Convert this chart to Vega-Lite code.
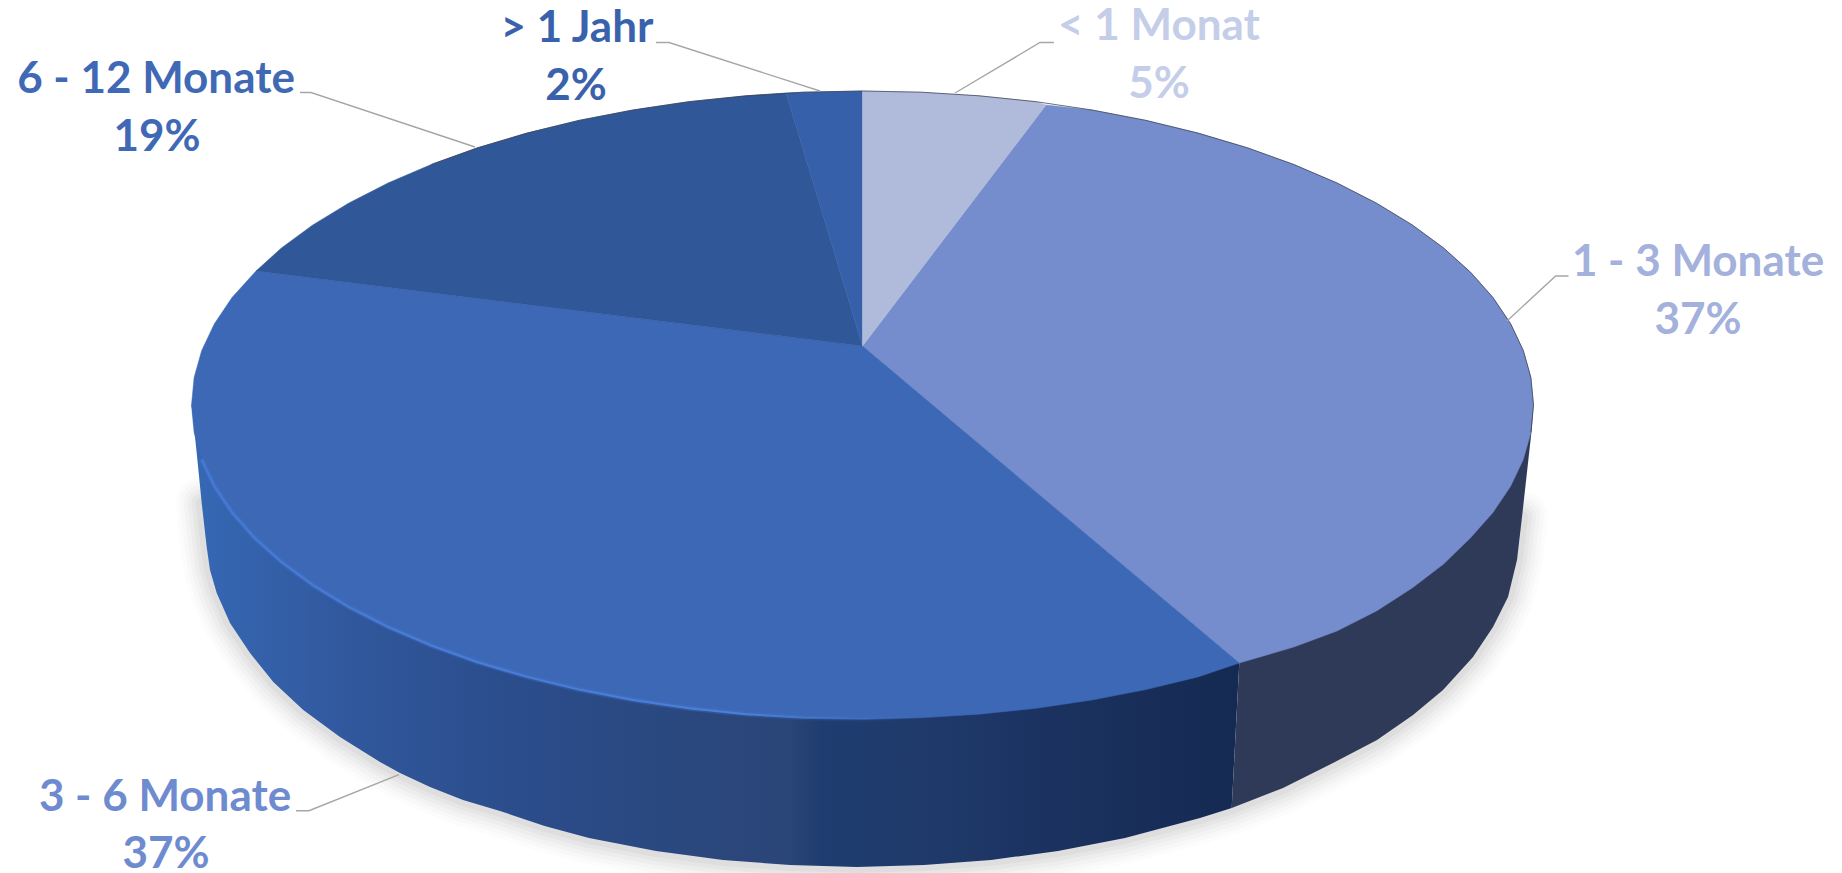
{"$schema":"https://vega.github.io/schema/vega-lite/v6.json","autosize":{"type":"none"},"width":1842,"height":873,"padding":0,"background":"#ffffff","config":{"view":{"stroke":null}},
"datasets":{
"edge":[
{"i":0,"x":201.7,"y":503},{"i":1,"x":206.7,"y":547},{"i":2,"x":210,"y":570},{"i":3,"x":216.7,"y":593},{"i":4,"x":230,"y":623},{"i":5,"x":250,"y":653},{"i":6,"x":273.3,"y":682},{"i":7,"x":303.3,"y":710},{"i":8,"x":340,"y":737},{"i":9,"x":380,"y":762},{"i":10,"x":400,"y":773},{"i":11,"x":430,"y":787},{"i":12,"x":463,"y":800},{"i":13,"x":500,"y":811},{"i":14,"x":544.6,"y":826},{"i":15,"x":589,"y":838},{"i":16,"x":656,"y":851},{"i":17,"x":723,"y":860},{"i":18,"x":790,"y":865},{"i":19,"x":857,"y":867},{"i":20,"x":924,"y":865},{"i":21,"x":991,"y":860},{"i":22,"x":1058,"y":851},{"i":23,"x":1125,"y":838},{"i":24,"x":1200,"y":818},{"i":25,"x":1231.7,"y":808},{"i":26,"x":1283,"y":788},{"i":27,"x":1333,"y":763},{"i":28,"x":1377,"y":740},{"i":29,"x":1413,"y":715},{"i":30,"x":1443,"y":690},{"i":31,"x":1473,"y":657},{"i":32,"x":1493,"y":627},{"i":33,"x":1508,"y":597},{"i":34,"x":1517,"y":560},{"i":35,"x":1522,"y":517}],
"walls":[
{"part":"left","i":0,"x":191.5,"y":405},{"part":"left","i":1,"x":193.3,"y":420},{"part":"left","i":2,"x":196.7,"y":453},{"part":"left","i":3,"x":201.7,"y":503},{"part":"left","i":4,"x":206.7,"y":547},{"part":"left","i":5,"x":210,"y":570},{"part":"left","i":6,"x":216.7,"y":593},{"part":"left","i":7,"x":230,"y":623},{"part":"left","i":8,"x":250,"y":653},{"part":"left","i":9,"x":273.3,"y":682},{"part":"left","i":10,"x":303.3,"y":710},{"part":"left","i":11,"x":340,"y":737},{"part":"left","i":12,"x":380,"y":762},{"part":"left","i":13,"x":400,"y":773},{"part":"left","i":14,"x":430,"y":787},{"part":"left","i":15,"x":463,"y":800},{"part":"left","i":16,"x":500,"y":811},{"part":"left","i":17,"x":544.6,"y":826},{"part":"left","i":18,"x":589,"y":838},{"part":"left","i":19,"x":656,"y":851},{"part":"left","i":20,"x":723,"y":860},{"part":"left","i":21,"x":790,"y":865},{"part":"left","i":22,"x":857,"y":867},{"part":"left","i":23,"x":924,"y":865},{"part":"left","i":24,"x":991,"y":860},{"part":"left","i":25,"x":1058,"y":851},{"part":"left","i":26,"x":1125,"y":838},{"part":"left","i":27,"x":1200,"y":818},{"part":"left","i":28,"x":1231.7,"y":808},{"part":"left","i":29,"x":1239.3,"y":663},{"part":"left","i":30,"x":862,"y":500},{"part":"left","i":31,"x":191.5,"y":405},
{"part":"right","i":0,"x":1239.3,"y":663},{"part":"right","i":1,"x":1231.7,"y":808},{"part":"right","i":2,"x":1283,"y":788},{"part":"right","i":3,"x":1333,"y":763},{"part":"right","i":4,"x":1377,"y":740},{"part":"right","i":5,"x":1413,"y":715},{"part":"right","i":6,"x":1443,"y":690},{"part":"right","i":7,"x":1473,"y":657},{"part":"right","i":8,"x":1493,"y":627},{"part":"right","i":9,"x":1508,"y":597},{"part":"right","i":10,"x":1517,"y":560},{"part":"right","i":11,"x":1522,"y":517},{"part":"right","i":12,"x":1528,"y":463},{"part":"right","i":13,"x":1532,"y":427},{"part":"right","i":14,"x":1533,"y":405},{"part":"right","i":15,"x":1300,"y":405},{"part":"right","i":16,"x":1239.3,"y":663}],
"sectors":[
{"part":"< 1 Monat","i":0,"x":862.5,"y":346},{"part":"< 1 Monat","i":1,"x":862.5,"y":91},{"part":"< 1 Monat","i":2,"x":921,"y":92.2},{"part":"< 1 Monat","i":3,"x":979,"y":95.8},{"part":"< 1 Monat","i":4,"x":1036.2,"y":101.7},{"part":"< 1 Monat","i":5,"x":1046,"y":105},{"part":"< 1 Monat","i":6,"x":862.5,"y":346},
{"part":"1 - 3 Monate","i":0,"x":862.5,"y":346},{"part":"1 - 3 Monate","i":1,"x":1046,"y":105},{"part":"1 - 3 Monate","i":2,"x":1092,"y":110},{"part":"1 - 3 Monate","i":3,"x":1146,"y":120.4},{"part":"1 - 3 Monate","i":4,"x":1198,"y":133.1},{"part":"1 - 3 Monate","i":5,"x":1247.4,"y":147.8},{"part":"1 - 3 Monate","i":6,"x":1293.8,"y":164.5},{"part":"1 - 3 Monate","i":7,"x":1337,"y":183},{"part":"1 - 3 Monate","i":8,"x":1376.5,"y":203.2},{"part":"1 - 3 Monate","i":9,"x":1412.2,"y":224.9},{"part":"1 - 3 Monate","i":10,"x":1443.6,"y":248},{"part":"1 - 3 Monate","i":11,"x":1470.6,"y":272.3},{"part":"1 - 3 Monate","i":12,"x":1493,"y":297.6},{"part":"1 - 3 Monate","i":13,"x":1510.6,"y":323.7},{"part":"1 - 3 Monate","i":14,"x":1523.3,"y":350.5},{"part":"1 - 3 Monate","i":15,"x":1530.9,"y":377.6},{"part":"1 - 3 Monate","i":16,"x":1533.5,"y":405},{"part":"1 - 3 Monate","i":17,"x":1530.9,"y":432.4},{"part":"1 - 3 Monate","i":18,"x":1523.3,"y":459.5},{"part":"1 - 3 Monate","i":19,"x":1510.6,"y":486.3},{"part":"1 - 3 Monate","i":20,"x":1493,"y":512.4},{"part":"1 - 3 Monate","i":21,"x":1470.6,"y":537.7},{"part":"1 - 3 Monate","i":22,"x":1443.6,"y":564},{"part":"1 - 3 Monate","i":23,"x":1412.2,"y":588},{"part":"1 - 3 Monate","i":24,"x":1376.5,"y":611},{"part":"1 - 3 Monate","i":25,"x":1337,"y":631},{"part":"1 - 3 Monate","i":26,"x":1293.8,"y":647},{"part":"1 - 3 Monate","i":27,"x":1239.3,"y":663},{"part":"1 - 3 Monate","i":28,"x":862.5,"y":346},
{"part":"3 - 6 Monate","i":0,"x":862.5,"y":346},{"part":"3 - 6 Monate","i":1,"x":1239.3,"y":663},{"part":"3 - 6 Monate","i":2,"x":1198,"y":676.9},{"part":"3 - 6 Monate","i":3,"x":1146,"y":689.6},{"part":"3 - 6 Monate","i":4,"x":1092,"y":700},{"part":"3 - 6 Monate","i":5,"x":1036.2,"y":708.3},{"part":"3 - 6 Monate","i":6,"x":979,"y":714.2},{"part":"3 - 6 Monate","i":7,"x":921,"y":717.8},{"part":"3 - 6 Monate","i":8,"x":862.5,"y":719},{"part":"3 - 6 Monate","i":9,"x":804,"y":717.8},{"part":"3 - 6 Monate","i":10,"x":746,"y":714.2},{"part":"3 - 6 Monate","i":11,"x":688.8,"y":708.3},{"part":"3 - 6 Monate","i":12,"x":633,"y":700},{"part":"3 - 6 Monate","i":13,"x":579,"y":689.6},{"part":"3 - 6 Monate","i":14,"x":527,"y":676.9},{"part":"3 - 6 Monate","i":15,"x":477.6,"y":662.2},{"part":"3 - 6 Monate","i":16,"x":431.2,"y":645.5},{"part":"3 - 6 Monate","i":17,"x":388,"y":627},{"part":"3 - 6 Monate","i":18,"x":348.5,"y":606.8},{"part":"3 - 6 Monate","i":19,"x":312.8,"y":585.1},{"part":"3 - 6 Monate","i":20,"x":281.4,"y":562},{"part":"3 - 6 Monate","i":21,"x":254.4,"y":537.7},{"part":"3 - 6 Monate","i":22,"x":232,"y":512.4},{"part":"3 - 6 Monate","i":23,"x":214.4,"y":486.3},{"part":"3 - 6 Monate","i":24,"x":201.7,"y":459.5},{"part":"3 - 6 Monate","i":25,"x":194.1,"y":432.4},{"part":"3 - 6 Monate","i":26,"x":191.5,"y":405},{"part":"3 - 6 Monate","i":27,"x":194.1,"y":377.6},{"part":"3 - 6 Monate","i":28,"x":201.7,"y":350.5},{"part":"3 - 6 Monate","i":29,"x":214.4,"y":323.7},{"part":"3 - 6 Monate","i":30,"x":232,"y":297.6},{"part":"3 - 6 Monate","i":31,"x":256,"y":271},{"part":"3 - 6 Monate","i":32,"x":862.5,"y":346},
{"part":"6 - 12 Monate","i":0,"x":862.5,"y":346},{"part":"6 - 12 Monate","i":1,"x":256,"y":271},{"part":"6 - 12 Monate","i":2,"x":281.4,"y":248},{"part":"6 - 12 Monate","i":3,"x":312.8,"y":224.9},{"part":"6 - 12 Monate","i":4,"x":348.5,"y":203.2},{"part":"6 - 12 Monate","i":5,"x":388,"y":183},{"part":"6 - 12 Monate","i":6,"x":431.2,"y":164.5},{"part":"6 - 12 Monate","i":7,"x":477.6,"y":147.8},{"part":"6 - 12 Monate","i":8,"x":527,"y":133.1},{"part":"6 - 12 Monate","i":9,"x":579,"y":120.4},{"part":"6 - 12 Monate","i":10,"x":633,"y":110},{"part":"6 - 12 Monate","i":11,"x":688.8,"y":101.7},{"part":"6 - 12 Monate","i":12,"x":746,"y":95.8},{"part":"6 - 12 Monate","i":13,"x":786,"y":93},{"part":"6 - 12 Monate","i":14,"x":862.5,"y":346},
{"part":"> 1 Jahr","i":0,"x":862.5,"y":346},{"part":"> 1 Jahr","i":1,"x":786,"y":93},{"part":"> 1 Jahr","i":2,"x":804,"y":92.2},{"part":"> 1 Jahr","i":3,"x":862.5,"y":91},{"part":"> 1 Jahr","i":4,"x":862.5,"y":346}],
"highlight":[
{"i":1,"x":201.7,"y":459.5},{"i":2,"x":214.4,"y":486.3},{"i":3,"x":232,"y":512.4},{"i":4,"x":254.4,"y":537.7},{"i":5,"x":281.4,"y":562},{"i":6,"x":312.8,"y":585.1},{"i":7,"x":348.5,"y":606.8},{"i":8,"x":388,"y":627},{"i":9,"x":431.2,"y":645.5},{"i":10,"x":477.6,"y":662.2},{"i":11,"x":527,"y":676.9},{"i":12,"x":579,"y":689.6},{"i":13,"x":633,"y":700},{"i":14,"x":688.8,"y":708.3},{"i":15,"x":746,"y":714.2},{"i":16,"x":804,"y":717.8},{"i":17,"x":862.5,"y":719},{"i":18,"x":921,"y":717.8}],
"rim":[
{"i":0,"x":431.2,"y":164.5},{"i":1,"x":477.6,"y":147.8},{"i":2,"x":527,"y":133.1},{"i":3,"x":579,"y":120.4},{"i":4,"x":633,"y":110},{"i":5,"x":688.8,"y":101.7},{"i":6,"x":746,"y":95.8},{"i":7,"x":804,"y":92.2},{"i":8,"x":862.5,"y":91},{"i":9,"x":921,"y":92.2},{"i":10,"x":979,"y":95.8},{"i":11,"x":1036.2,"y":101.7},{"i":12,"x":1092,"y":110},{"i":13,"x":1146,"y":120.4},{"i":14,"x":1198,"y":133.1},{"i":15,"x":1247.4,"y":147.8},{"i":16,"x":1293.8,"y":164.5},{"i":17,"x":1337,"y":183},{"i":18,"x":1376.5,"y":203.2},{"i":19,"x":1412.2,"y":224.9},{"i":20,"x":1443.6,"y":248},{"i":21,"x":1470.6,"y":272.3},{"i":22,"x":1493,"y":297.6},{"i":23,"x":1510.6,"y":323.7},{"i":24,"x":1523.3,"y":350.5},{"i":25,"x":1530.9,"y":377.6},{"i":26,"x":1533.5,"y":405},{"i":27,"x":1530.9,"y":432.4}],
"leaders":[
{"part":"> 1 Jahr","i":0,"x":656,"y":42.5},{"part":"> 1 Jahr","i":1,"x":669,"y":42.5},{"part":"> 1 Jahr","i":2,"x":820,"y":91},
{"part":"6 - 12 Monate","i":0,"x":300,"y":92.5},{"part":"6 - 12 Monate","i":1,"x":311,"y":92.5},{"part":"6 - 12 Monate","i":2,"x":475,"y":147},
{"part":"< 1 Monat","i":0,"x":1054,"y":42.5},{"part":"< 1 Monat","i":1,"x":1040,"y":42.5},{"part":"< 1 Monat","i":2,"x":955,"y":93},
{"part":"1 - 3 Monate","i":0,"x":1568.5,"y":276},{"part":"1 - 3 Monate","i":1,"x":1555.6,"y":276},{"part":"1 - 3 Monate","i":2,"x":1507,"y":321},
{"part":"3 - 6 Monate","i":0,"x":296,"y":810.7},{"part":"3 - 6 Monate","i":1,"x":309,"y":810.7},{"part":"3 - 6 Monate","i":2,"x":399,"y":774.7}],
"labels":[
{"part":"< 1 Monat","text":"< 1 Monat","x":1159,"y":40},{"part":"< 1 Monat","text":"5%","x":1159,"y":97.7},
{"part":"1 - 3 Monate","text":"1 - 3 Monate","x":1698,"y":276},{"part":"1 - 3 Monate","text":"37%","x":1698,"y":334},
{"part":"3 - 6 Monate","text":"3 - 6 Monate","x":165,"y":810.7},{"part":"3 - 6 Monate","text":"37%","x":166,"y":868},
{"part":"6 - 12 Monate","text":"6 - 12 Monate","x":156,"y":93},{"part":"6 - 12 Monate","text":"19%","x":157,"y":151},
{"part":"> 1 Jahr","text":"> 1 Jahr","x":577,"y":41.7},{"part":"> 1 Jahr","text":"2%","x":576,"y":100}]
},
"encoding":{
"x":{"field":"x","type":"quantitative","axis":null,"scale":{"domain":[0,1842],"nice":false,"zero":false}},
"y":{"field":"y","type":"quantitative","axis":null,"scale":{"domain":[873,0],"nice":false,"zero":false}}
},
"layer":[
{"data":{"name":"edge"},"mark":{"type":"line","stroke":"#000000","strokeOpacity":0.012,"strokeWidth":52,"strokeCap":"round","strokeJoin":"round"},"encoding":{"order":{"field":"i","type":"quantitative"}}},
{"data":{"name":"edge"},"mark":{"type":"line","stroke":"#000000","strokeOpacity":0.016,"strokeWidth":44,"strokeCap":"round","strokeJoin":"round"},"encoding":{"order":{"field":"i","type":"quantitative"}}},
{"data":{"name":"edge"},"mark":{"type":"line","stroke":"#000000","strokeOpacity":0.02,"strokeWidth":36,"strokeCap":"round","strokeJoin":"round"},"encoding":{"order":{"field":"i","type":"quantitative"}}},
{"data":{"name":"edge"},"mark":{"type":"line","stroke":"#000000","strokeOpacity":0.024,"strokeWidth":28,"strokeCap":"round","strokeJoin":"round"},"encoding":{"order":{"field":"i","type":"quantitative"}}},
{"data":{"name":"edge"},"mark":{"type":"line","stroke":"#000000","strokeOpacity":0.028,"strokeWidth":20,"strokeCap":"round","strokeJoin":"round"},"encoding":{"order":{"field":"i","type":"quantitative"}}},
{"data":{"name":"edge"},"mark":{"type":"line","stroke":"#000000","strokeOpacity":0.03,"strokeWidth":12,"strokeCap":"round","strokeJoin":"round"},"encoding":{"order":{"field":"i","type":"quantitative"}}},
{"data":{"name":"walls"},"transform":[{"filter":"datum.part==='left'"}],"mark":{"type":"line","strokeWidth":0,"fill":{"gradient":"linear","x1":0,"y1":0,"x2":1,"y2":0,"stops":[{"offset":0,"color":"#3668b4"},{"offset":0.15,"color":"#31589d"},{"offset":0.3,"color":"#2b4d8c"},{"offset":0.57,"color":"#2a4577"},{"offset":0.6,"color":"#1f3d70"},{"offset":0.7,"color":"#1f3a6b"},{"offset":0.82,"color":"#1b3260"},{"offset":1,"color":"#152a52"}]}},"encoding":{"order":{"field":"i","type":"quantitative"}}},
{"data":{"name":"walls"},"transform":[{"filter":"datum.part==='right'"}],"mark":{"type":"line","strokeWidth":0,"fill":"#2f3a58"},"encoding":{"order":{"field":"i","type":"quantitative"}}},
{"data":{"name":"sectors"},"transform":[{"filter":"datum.part==='1 - 3 Monate'"}],"mark":{"type":"line","fill":"#758dcc","stroke":"#758dcc","strokeWidth":0.5},"encoding":{"order":{"field":"i","type":"quantitative"}}},
{"data":{"name":"sectors"},"transform":[{"filter":"datum.part==='3 - 6 Monate'"}],"mark":{"type":"line","fill":"#3d68b6","stroke":"#3d68b6","strokeWidth":0.5},"encoding":{"order":{"field":"i","type":"quantitative"}}},
{"data":{"name":"sectors"},"transform":[{"filter":"datum.part==='6 - 12 Monate'"}],"mark":{"type":"line","fill":"#305798","stroke":"#305798","strokeWidth":0.5},"encoding":{"order":{"field":"i","type":"quantitative"}}},
{"data":{"name":"sectors"},"transform":[{"filter":"datum.part==='> 1 Jahr'"}],"mark":{"type":"line","fill":"#3660aa","stroke":"#3660aa","strokeWidth":0.5},"encoding":{"order":{"field":"i","type":"quantitative"}}},
{"data":{"name":"sectors"},"transform":[{"filter":"datum.part==='< 1 Monat'"}],"mark":{"type":"line","fill":"#b0bbdc","stroke":"#b0bbdc","strokeWidth":0.5},"encoding":{"order":{"field":"i","type":"quantitative"}}},
{"data":{"name":"highlight"},"mark":{"type":"line","strokeWidth":5,"stroke":{"gradient":"linear","x1":0,"y1":0,"x2":1,"y2":0,"stops":[{"offset":0,"color":"rgba(68,120,208,0.35)"},{"offset":0.7,"color":"rgba(68,120,208,0.3)"},{"offset":1,"color":"rgba(68,120,208,0)"}]}},"encoding":{"order":{"field":"i","type":"quantitative"}}},
{"data":{"name":"highlight"},"mark":{"type":"line","strokeWidth":2,"stroke":{"gradient":"linear","x1":0,"y1":0,"x2":1,"y2":0,"stops":[{"offset":0,"color":"rgba(70,122,214,1)"},{"offset":0.75,"color":"rgba(74,128,220,1)"},{"offset":1,"color":"rgba(74,128,220,0)"}]}},"encoding":{"order":{"field":"i","type":"quantitative"}}},
{"data":{"name":"rim"},"mark":{"type":"line","stroke":"#3a3f50","strokeOpacity":0.75,"strokeWidth":1},"encoding":{"order":{"field":"i","type":"quantitative"}}},
{"data":{"name":"leaders"},"mark":{"type":"line","stroke":"#a6a6a6","strokeWidth":1.4},"encoding":{"detail":{"field":"part"},"order":{"field":"i","type":"quantitative"}}},
{"data":{"name":"labels"},"mark":{"type":"text","font":"Lato","fontWeight":"bold","fontSize":44,"align":"center","baseline":"alphabetic"},"encoding":{"text":{"field":"text"},"color":{"field":"part","type":"nominal","legend":null,"scale":{"domain":["< 1 Monat","1 - 3 Monate","3 - 6 Monate","6 - 12 Monate","> 1 Jahr"],"range":["#c5cee8","#a3b1dc","#6f8bd0","#3f69b5","#3a62ac"]}}}}
]}
